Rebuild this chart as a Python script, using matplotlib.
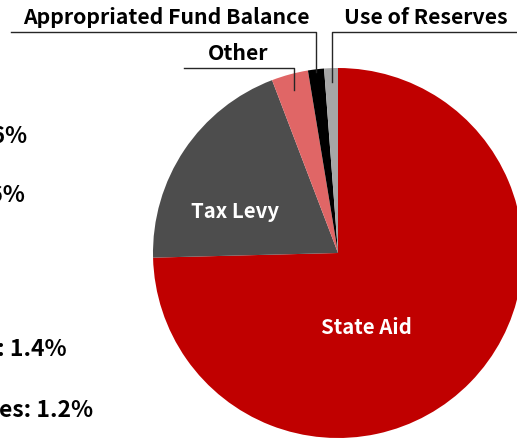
import numpy as np
import matplotlib
matplotlib.use("Agg")
import matplotlib.pyplot as plt

# revenue shares (%)
labels = ["State Aid", "Tax Levy", "Other", "Appropriated Fund Balance", "Use of Reserves"]
shares = [74.6, 19.6, 3.2, 1.4, 1.2]
colors = ["#C00000", "#4D4D4D", "#E06666", "#000000", "#A6A6A6"]

# list on the left (cut off by the crop)
side_text = ["State Aid: 74.6%", "Tax Levy: 19.6%",
             "Appropriated Fund Balance: 1.4%", "Use of Reserves: 1.2%"]

plt.rcParams["font.family"] = ["Noto Sans CJK SC", "DejaVu Sans"]
plt.rcParams["font.weight"] = "bold"

W, H = 517, 440
fig = plt.figure(figsize=(W / 100, H / 100), dpi=100)
ax = fig.add_axes([0, 0, 1, 1])

cx, cy, R = 338, 187, 185
wedges, _ = ax.pie(shares, colors=colors, startangle=90, counterclock=False,
                   center=(cx, cy), radius=R, frame=True,
                   wedgeprops=dict(linewidth=0))
ax.set_xlim(0, W)
ax.set_ylim(0, H)
ax.set_aspect("equal")
ax.axis("off")

# inside labels
ax.text(235, 222, "Tax Levy", color="white", fontsize=14.7, fontweight="bold",
        ha="center", va="baseline")
ax.text(366, 106, "State Aid", color="white", fontsize=14.7, fontweight="bold",
        ha="center", va="baseline")


def anchor(w, f):
    a = np.deg2rad((w.theta1 + w.theta2) / 2)
    return cx + R * f * np.cos(a), cy + R * f * np.sin(a)


lc = "#262626"
fs = 15.3
# Other
x, y = anchor(wedges[2], 0.91)
ax.plot([184, x, x], [372, 372, y], color=lc, lw=1)
ax.text(208, 380, labels[2], fontsize=fs, fontweight="bold", ha="left", va="baseline")
# Appropriated Fund Balance
x, y = anchor(wedges[3], 0.985)
ax.plot([11, x, x], [408, 408, y], color=lc, lw=1)
ax.text(23, 416, labels[3], fontsize=fs, fontweight="bold", ha="left", va="baseline")
# Use of Reserves
x, y = anchor(wedges[4], 0.925)
ax.plot([W + 5, x, x], [408, 408, y], color=lc, lw=1)
ax.text(344, 416, labels[4], fontsize=fs, fontweight="bold", ha="left", va="baseline")

# left list
for (tx, ty), s in zip([(27, 297), (25, 238), (67, 84), (93, 23)], side_text):
    ax.text(tx, ty, s, fontsize=16.5, fontweight="bold", ha="right", va="baseline")

fig.savefig("out.png", dpi=100)
